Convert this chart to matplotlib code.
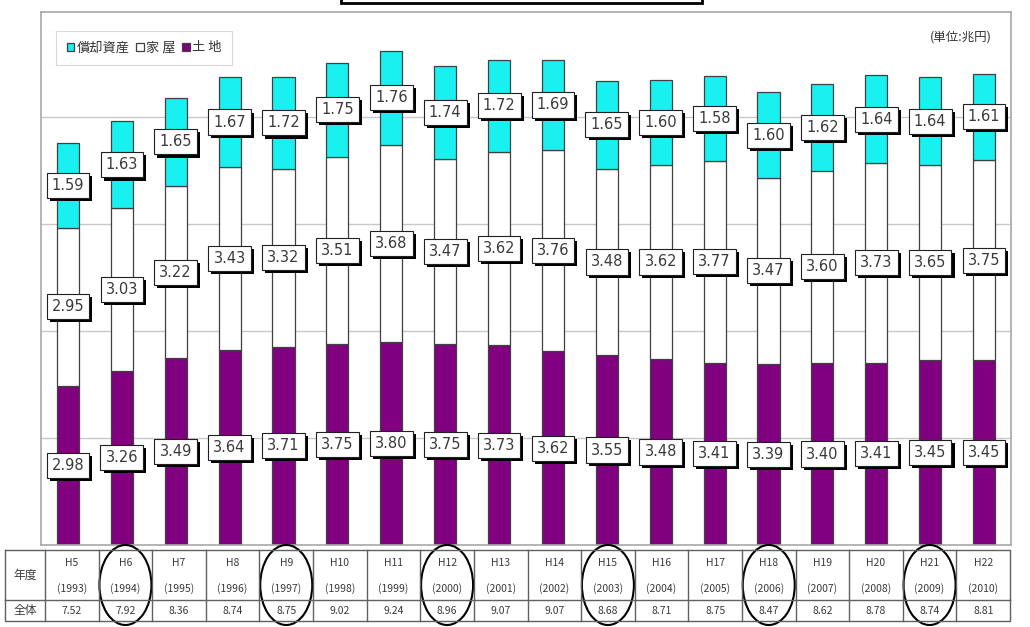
import matplotlib
matplotlib.use('Agg')
from matplotlib import pyplot as plt
from matplotlib import patheffects
from matplotlib.patches import Ellipse, Rectangle
import numpy as np

plt.rcParams['font.family'] = ['Noto Sans CJK JP', 'DejaVu Sans']

# data (trillion yen)
eras = ['H5', 'H6', 'H7', 'H8', 'H9', 'H10', 'H11', 'H12', 'H13', 'H14',
        'H15', 'H16', 'H17', 'H18', 'H19', 'H20', 'H21', 'H22']
years = ['1993', '1994', '1995', '1996', '1997', '1998', '1999', '2000', '2001',
         '2002', '2003', '2004', '2005', '2006', '2007', '2008', '2009', '2010']
land = [2.98, 3.26, 3.49, 3.64, 3.71, 3.75, 3.80, 3.75, 3.73, 3.62,
        3.55, 3.48, 3.41, 3.39, 3.40, 3.41, 3.45, 3.45]
house = [2.95, 3.03, 3.22, 3.43, 3.32, 3.51, 3.68, 3.47, 3.62, 3.76,
         3.48, 3.62, 3.77, 3.47, 3.60, 3.73, 3.65, 3.75]
depr = [1.59, 1.63, 1.65, 1.67, 1.72, 1.75, 1.76, 1.74, 1.72, 1.69,
        1.65, 1.60, 1.58, 1.60, 1.62, 1.64, 1.64, 1.61]
total = ['7.52', '7.92', '8.36', '8.74', '8.75', '9.02', '9.24', '8.96', '9.07',
         '9.07', '8.68', '8.71', '8.75', '8.47', '8.62', '8.78', '8.74', '8.81']
circled = ['H6', 'H9', 'H12', 'H15', 'H18', 'H21']

W, H = 1030, 627
fig = plt.figure(figsize=(W / 100, H / 100), dpi=100)
fig.patch.set_facecolor('white')

# main chart area
L, R, T, B = 41, 1011, 12, 545
ax = fig.add_axes([L / W, 1 - B / H, (R - L) / W, (B - T) / H])
x = np.arange(len(eras))
land = np.array(land)
house = np.array(house)
depr = np.array(depr)

purple = '#800080'
cyan = '#19F0F0'
edge = '#404040'
bw = 0.41
ax.bar(x, land, bw, color=purple, edgecolor=edge, linewidth=0.9, label='土 地')
ax.bar(x, house, bw, bottom=land, color='white', edgecolor=edge, linewidth=0.9, label='家 屋')
ax.bar(x, depr, bw, bottom=land + house, color=cyan, edgecolor=edge, linewidth=0.9,
       label='償却資産')

ax.set_xlim(-0.5, len(eras) - 0.5)
ax.set_ylim(0, (B - T) / 53.5)
ax.set_yticks([2, 4, 6, 8])
ax.set_xticks([])
ax.tick_params(left=False, labelleft=False)
ax.yaxis.grid(True, color='#c8c8c8', linewidth=1)
ax.set_axisbelow(True)
for s in ax.spines.values():
    s.set_color('#a8a8a8')
    s.set_linewidth(1.2)

shadow = [patheffects.SimplePatchShadow(offset=(2.2, -2.2), shadow_rgbFace='black', alpha=1),
          patheffects.Normal()]


def box_label(xx, yy, val):
    t = ax.text(xx, yy, f'{val:.2f}', ha='center', va='center', fontsize=10.5,
                color='#3a3a3a', family='DejaVu Sans', zorder=6,
                bbox=dict(boxstyle='square,pad=0.35', fc='white', ec='#202020', lw=0.8))
    t.get_bbox_patch().set_path_effects(shadow)


for i in range(len(eras)):
    box_label(x[i], land[i] / 2, land[i])
    box_label(x[i], land[i] + house[i] / 2, house[i])
    box_label(x[i], land[i] + house[i] + depr[i] / 2, depr[i])

handles, labels = ax.get_legend_handles_labels()
leg = ax.legend(handles[::-1], labels[::-1], ncol=3, loc='upper left',
                bbox_to_anchor=(0.009, 0.977), fontsize=9.5, frameon=True,
                fancybox=False, handlelength=0.55, handleheight=0.55,
                handletextpad=0.2, columnspacing=0.5, borderpad=0.8,
                labelcolor='#333333')
leg.get_frame().set_edgecolor('#e0c8c8')
leg.get_frame().set_linewidth(0.8)

ax.text(0.98, 0.965, '(単位:兆円)', transform=ax.transAxes, ha='right', va='top',
        fontsize=9, color='#333333')

# overlay in pixel coordinates: table, circles, title box
ov = fig.add_axes([0, 0, 1, 1])
ov.set_xlim(0, W)
ov.set_ylim(H, 0)
ov.axis('off')

# title box (cut off at top edge)
ov.add_patch(Rectangle((341, -20), 361, 22.5, fill=False, ec='black', lw=2))

tl, tr, tt, tm, tb = 5, 1010, 550, 600, 621
c0 = 45
cw = (tr - c0) / len(eras)
lc = '#606060'
ov.plot([tl, tr, tr, tl, tl], [tt, tt, tb, tb, tt], color=lc, lw=1)
ov.plot([tl, tr], [tm, tm], color=lc, lw=1)
ov.plot([c0, c0], [tt, tb], color=lc, lw=1)
for k in range(1, len(eras)):
    ov.plot([c0 + k * cw] * 2, [tt, tb], color=lc, lw=1)

tc = '#3a3a3a'
ov.text((tl + c0) / 2, (tt + tm) / 2, '年度', ha='center', va='center', fontsize=8.5, color=tc)
ov.text((tl + c0) / 2, (tm + tb) / 2, '全体', ha='center', va='center', fontsize=8.5, color=tc)
for i in range(len(eras)):
    cx = c0 + (i + 0.5) * cw
    ov.text(cx, 563, eras[i], ha='center', va='center', fontsize=7.5, color=tc)
    ov.text(cx, 589, f'({years[i]})', ha='center', va='center', fontsize=7.5, color=tc)
    ov.text(cx, 611, total[i], ha='center', va='center', fontsize=7.5, color=tc)
    if eras[i] in circled:
        ov.add_patch(Ellipse((cx, 585), 52, 80, fill=False, ec='black', lw=1.5))

fig.savefig('out.png', dpi=100)
